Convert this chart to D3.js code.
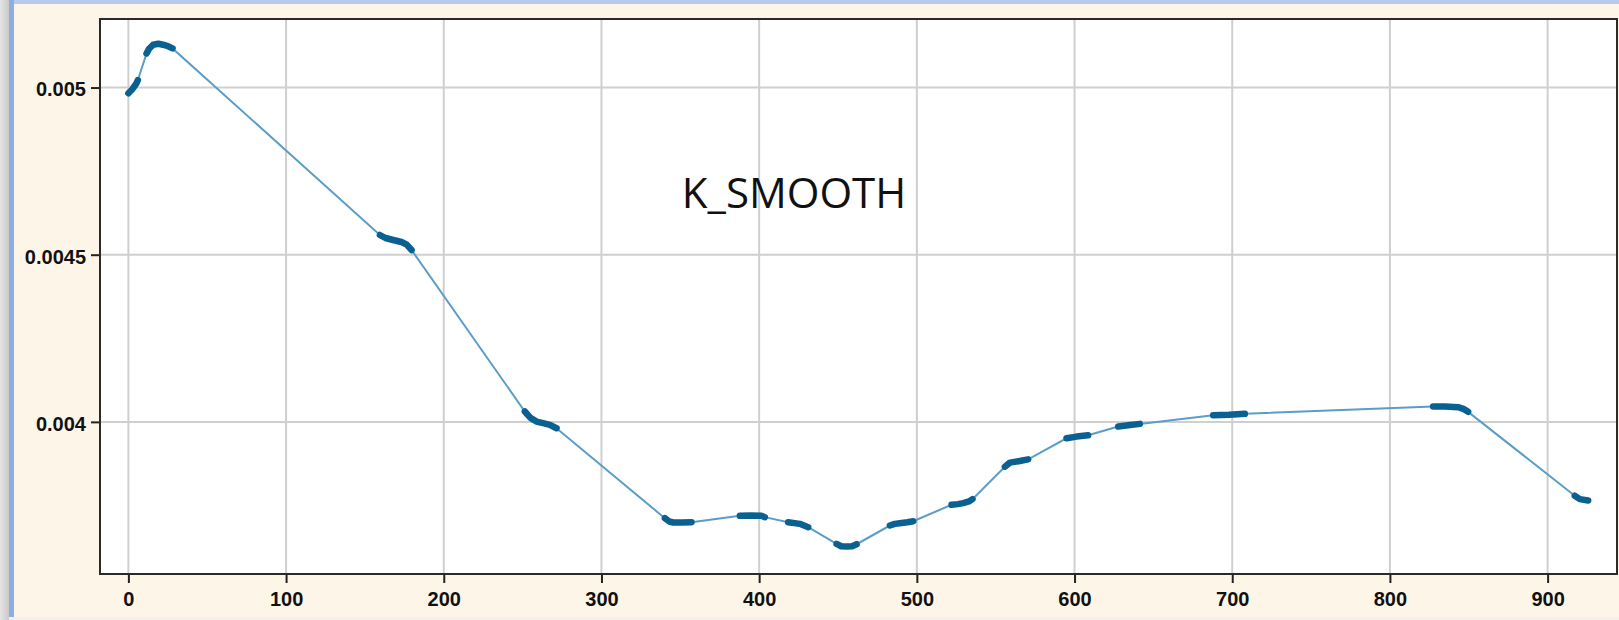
<!DOCTYPE html>
<html>
<head>
<meta charset="utf-8">
<script src="https://cdn.jsdelivr.net/npm/d3@7"></script>
<style>
  html, body { margin: 0; padding: 0; background: #f0f0f0; }
  svg { display: block; }
</style>
</head>
<body>
<svg id="chart" width="1619" height="620"></svg>
<script>
// Data: index, K_SMOOTH value, cluster of points
const kIndex = [
    0, 2.5, 5, 6,
    11.5, 13, 15.7, 19, 22, 25, 28,
    159.5, 163, 167.9, 173.2, 176.5, 179.6,
    251.4, 255, 258.8, 263, 267.3, 271.5,
    340.2, 343, 345.5, 351, 357.1,
    387.8, 395, 401.5, 403.6,
    418.4, 425.8, 431.1,
    449.1, 452, 455.4, 459, 461.8,
    482.9, 486, 489.2, 494, 497.7,
    522, 526, 529.4, 533, 535.3,
    555.8, 559, 565.3, 570.6,
    594.9, 601.3, 608.6,
    627.7, 634, 641.4,
    687.9, 698, 708,
    827.4, 835, 843.2, 847, 849.6,
    917.2, 920.4, 925.7
];
const kSmooth = [
    0.004983, 0.004995, 0.005012, 0.005022,
    0.005102, 0.005115, 0.005128, 0.005131, 0.005128, 0.005124, 0.005117,
    0.004559, 0.004550, 0.004544, 0.004538, 0.004530, 0.004514,
    0.004031, 0.004012, 0.004001, 0.003996, 0.003991, 0.003981,
    0.003712, 0.003702, 0.003699, 0.003699, 0.003700,
    0.003719, 0.003720, 0.003719, 0.003715,
    0.003700, 0.003695, 0.003685,
    0.003635, 0.003628, 0.003627, 0.003628, 0.003634,
    0.003690, 0.003695, 0.003697, 0.003700, 0.003703,
    0.003752, 0.003754, 0.003757, 0.003762, 0.003769,
    0.003866, 0.003878, 0.003883, 0.003888,
    0.003951, 0.003956, 0.003960,
    0.003986, 0.003990, 0.003994,
    0.004020, 0.004021, 0.004024,
    0.004046, 0.004046, 0.004044, 0.004038, 0.004030,
    0.003779, 0.003769, 0.003765
];
const clusterId = [
    0, 0, 0, 0,
    1, 1, 1, 1, 1, 1, 1,
    2, 2, 2, 2, 2, 2,
    3, 3, 3, 3, 3, 3,
    4, 4, 4, 4, 4,
    5, 5, 5, 5,
    6, 6, 6,
    7, 7, 7, 7, 7,
    8, 8, 8, 8, 8,
    9, 9, 9, 9, 9,
    10, 10, 10, 10,
    11, 11, 11,
    12, 12, 12,
    13, 13, 13,
    14, 14, 14, 14, 14,
    15, 15, 15
];
const xTicks = [0, 100, 200, 300, 400, 500, 600, 700, 800, 900];
const yTicks = [0.004, 0.0045, 0.005];
const yTickLabels = ["0.004", "0.0045", "0.005"];
const chartTitle = "K_SMOOTH";

const svg = d3.select("#chart");

// Window-ish background
const defs = svg.append("defs");
const sideGrad = defs.append("linearGradient").attr("id", "side").attr("x1", 0).attr("x2", 1);
sideGrad.append("stop").attr("offset", "0%").attr("stop-color", "#e4e4e4");
sideGrad.append("stop").attr("offset", "100%").attr("stop-color", "#c9c9c9");

svg.append("rect").attr("x", 0).attr("y", 0).attr("width", 1619).attr("height", 620).attr("fill", "#f0f0f0");
svg.append("rect").attr("x", 0).attr("y", 0).attr("width", 9).attr("height", 620).attr("fill", "url(#side)");
svg.append("rect").attr("x", 9).attr("y", 0).attr("width", 5).attr("height", 617).attr("fill", "#8eaee0");
svg.append("rect").attr("x", 14).attr("y", 0).attr("width", 1605).attr("height", 4).attr("fill", "#b9cbea");
svg.append("rect").attr("x", 14).attr("y", 4).attr("width", 1605).attr("height", 613).attr("fill", "#fdf6e8");

// Plot area
const plotL = 100, plotR = 1617, plotT = 19, plotB = 574;
const x = d3.scaleLinear().domain([-18, 944]).range([plotL, plotR]);
const y = d3.scaleLinear().domain([0.003545, 0.005205]).range([plotB, plotT]);

svg.append("rect")
    .attr("x", plotL).attr("y", plotT)
    .attr("width", plotR - plotL).attr("height", plotB - plotT)
    .attr("fill", "#ffffff");

// Grid
svg.append("g")
    .selectAll("line")
    .data(xTicks)
    .enter().append("line")
    .attr("x1", d => x(d)).attr("x2", d => x(d))
    .attr("y1", plotT).attr("y2", plotB)
    .attr("stroke", "#cfcfcf").attr("stroke-width", 2);

svg.append("g")
    .selectAll("line")
    .data(yTicks)
    .enter().append("line")
    .attr("x1", plotL).attr("x2", plotR)
    .attr("y1", d => y(d)).attr("y2", d => y(d))
    .attr("stroke", "#cfcfcf").attr("stroke-width", 2);

// Axes
const xAxis = svg.append("g")
    .attr("transform", `translate(0,${plotB})`)
    .call(d3.axisBottom(x).tickValues(xTicks).tickSize(9).tickPadding(9).tickSizeOuter(0));
const yAxis = svg.append("g")
    .attr("transform", `translate(${plotL},0)`)
    .call(d3.axisLeft(y).tickValues(yTicks).tickFormat((d, i) => yTickLabels[i]).tickSize(9).tickPadding(5).tickSizeOuter(0));

[xAxis, yAxis].forEach(g => {
    g.select(".domain").remove();
    g.selectAll(".tick line").attr("stroke", "#222").attr("stroke-width", 2);
    g.selectAll(".tick text")
        .attr("fill", "#111")
        .style("font-family", "'Liberation Sans', Arial, sans-serif")
        .style("font-weight", "bold")
        .style("font-size", "20px");
});
yAxis.selectAll(".tick text").attr("dy", "0.42em");

// Line data
const pts = kIndex.map((k, i) => ({ k: k, v: kSmooth[i], c: clusterId[i] }));
const line = d3.line().x(d => x(d.k)).y(d => y(d.v));

svg.append("path")
    .datum(pts)
    .attr("fill", "none")
    .attr("stroke", "#5a9dc6")
    .attr("stroke-width", 2)
    .attr("d", line);

// Dense point clusters drawn thick
const groups = d3.groups(pts, d => d.c);
svg.append("g")
    .selectAll("path")
    .data(groups)
    .enter().append("path")
    .attr("fill", "none")
    .attr("stroke", "#0b6092")
    .attr("stroke-width", 6.5)
    .attr("stroke-linecap", "round")
    .attr("stroke-linejoin", "round")
    .attr("d", d => line(d[1]));

// Frame
svg.append("rect")
    .attr("x", plotL).attr("y", plotT)
    .attr("width", plotR - plotL).attr("height", plotB - plotT)
    .attr("fill", "none")
    .attr("stroke", "#2a2a2a").attr("stroke-width", 2);

// Title inside the plot
svg.append("text")
    .attr("x", 794).attr("y", 208)
    .attr("text-anchor", "middle")
    .attr("fill", "#111")
    .style("font-family", "'Open Sans', 'Liberation Sans', sans-serif")
    .style("font-size", "42px")
    .text(chartTitle);
</script>
</body>
</html>
